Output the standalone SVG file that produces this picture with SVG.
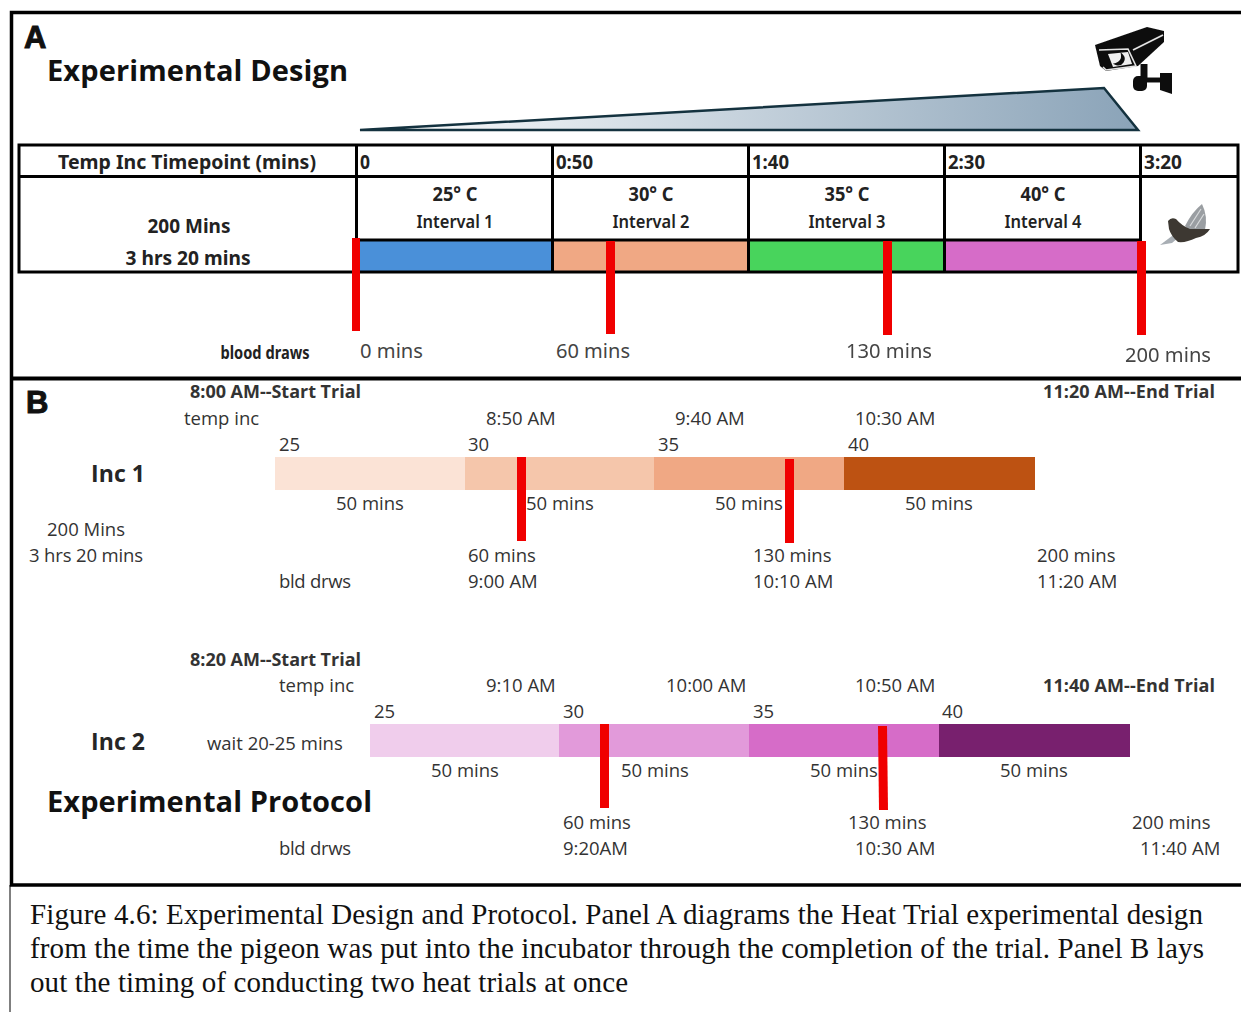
<svg xmlns="http://www.w3.org/2000/svg" width="1241" height="1012" viewBox="0 0 1241 1012">
<defs>
<linearGradient id="wedge" x1="0" x2="1" y1="0" y2="0"><stop offset="0" stop-color="#ffffff"/><stop offset="1" stop-color="#8aa3b8"/></linearGradient>
<filter id="soft" x="-10%" y="-10%" width="120%" height="120%"><feGaussianBlur stdDeviation="0.6"/></filter>
</defs>
<style>
text{font-family:"Open Sans","Noto Sans","Liberation Sans",sans-serif;fill:#262626}
.b{font-weight:700}
.t{font-size:18.5px;fill:#333}
.s{font-size:18px;fill:#333}
.h{font-size:29px;font-weight:700;fill:#111}
.L{font-size:31px;font-weight:700;fill:#111;stroke:#111;stroke-width:1;font-family:"Liberation Sans",sans-serif}
.c{font-family:"Noto Sans","Open Sans",sans-serif;font-weight:700;font-size:20px;fill:#222}
.i{font-size:18px;font-weight:600}
.m{font-family:"Noto Sans","Open Sans",sans-serif;font-size:20px;fill:#444}
.f{filter:url(#soft)}
.cap{font-family:"Liberation Serif",serif;font-size:29px;fill:#111}
.grid{stroke:#000;stroke-width:3;fill:none}
.red{fill:#f00000}
</style>
<rect width="1241" height="1012" fill="#fff"/>
<g id="frame">
<path d="M1241 12.500H11.500V885H1241" fill="none" stroke="#000" stroke-width="3.500"/>
<path d="M11 378.500H1241" stroke="#000" stroke-width="4"/>
<path d="M10 885V1012" stroke="#000" stroke-width="1"/>
</g>
<g id="panel-a">
<text class="L" x="24" y="48" textLength="22">A</text>
<text class="h" x="47" y="81" textLength="301">Experimental Design</text>
<g id="camera" class="f">
<path d="M1095 45L1147 27L1164 31L1164 42L1138 66L1106 71L1100 66Z" fill="#111"/>
<path d="M1099 50L1128 49L1136 66L1106 70L1103 67" fill="none" stroke="#e4e4e4" stroke-width="1.600"/>
<path d="M1108 54L1128 52L1132 64L1113 67Z" fill="#efefef"/>
<path d="M1122 55a5.500 5.500 0 0 1-6 9a8 8 0 0 0 6-9Z" fill="#111" stroke="#111" stroke-width="2"/>
<path d="M1133 50L1163 35" stroke="#e4e4e4" stroke-width="1.600"/>
<path d="M1144 64V79" stroke="#111" stroke-width="7"/>
<path d="M1146 80H1162" stroke="#111" stroke-width="5"/>
<rect x="1133" y="76" width="14" height="15" rx="5" fill="#111"/>
<path d="M1160 73H1172V94L1160 90Z" fill="#111"/>
</g>
<polygon id="wedge-ramp" points="360,130 1104,88 1138,130" fill="url(#wedge)" stroke="#14323f" stroke-width="2.500"/>
<g id="interval-1"><rect x="357" y="241" width="195" height="31" fill="#4a90d9"/></g>
<g id="interval-2"><rect x="552" y="241" width="196" height="31" fill="#f0a884"/></g>
<g id="interval-3"><rect x="748" y="241" width="196" height="31" fill="#48d45c"/></g>
<g id="interval-4"><rect x="944" y="241" width="196" height="31" fill="#d66cc8"/></g>
<g id="table" class="grid">
<rect x="19" y="145" width="1219" height="127"/>
<path d="M19 176.500H1238M356.500 145V272M552.500 145V272M748.500 145V272M944.500 145V272M1140.500 145V272M357 240H1140"/>
</g>
<g id="table-text">
<text class="c" x="187" y="169" text-anchor="middle" textLength="258" lengthAdjust="spacingAndGlyphs">Temp Inc Timepoint (mins)</text>
<text class="c" x="360" y="169" textLength="10" lengthAdjust="spacingAndGlyphs">0</text>
<text class="c" x="556" y="169" textLength="37" lengthAdjust="spacingAndGlyphs">0:50</text>
<text class="c" x="752" y="169" textLength="37" lengthAdjust="spacingAndGlyphs">1:40</text>
<text class="c" x="948" y="169" textLength="37" lengthAdjust="spacingAndGlyphs">2:30</text>
<text class="c" x="1144" y="169" textLength="38" lengthAdjust="spacingAndGlyphs">3:20</text>
<text class="c" x="189" y="233" text-anchor="middle" textLength="83" lengthAdjust="spacingAndGlyphs">200 Mins</text>
<text class="c" x="188" y="265" text-anchor="middle" textLength="125" lengthAdjust="spacingAndGlyphs">3 hrs 20 mins</text>
<text class="c" x="455" y="201" text-anchor="middle" textLength="45" lengthAdjust="spacingAndGlyphs">25° C</text>
<text class="c" x="651" y="201" text-anchor="middle" textLength="45" lengthAdjust="spacingAndGlyphs">30° C</text>
<text class="c" x="847" y="201" text-anchor="middle" textLength="45" lengthAdjust="spacingAndGlyphs">35° C</text>
<text class="c" x="1043" y="201" text-anchor="middle" textLength="45" lengthAdjust="spacingAndGlyphs">40° C</text>
<text class="c i" x="455" y="228" text-anchor="middle" textLength="77" lengthAdjust="spacingAndGlyphs">Interval 1</text>
<text class="c i" x="651" y="228" text-anchor="middle" textLength="77" lengthAdjust="spacingAndGlyphs">Interval 2</text>
<text class="c i" x="847" y="228" text-anchor="middle" textLength="77" lengthAdjust="spacingAndGlyphs">Interval 3</text>
<text class="c i" x="1043" y="228" text-anchor="middle" textLength="77" lengthAdjust="spacingAndGlyphs">Interval 4</text>
</g>
<g id="pigeon" class="f">
<path d="M1160 245L1172 236L1178 238L1172 243Z" fill="#a8aeb4"/>
<path d="M1185 226Q1192 212 1202 204Q1208 216 1205 230L1192 234Z" fill="#9a9ea2"/>
<path d="M1168 221Q1171 217 1176 219Q1182 226 1190 229L1210 229Q1206 236 1196 238Q1186 243 1178 242Q1171 236 1169 229Z" fill="#3d3932"/>
<path d="M1190 226L1201 209M1195 228L1204 214" stroke="#d8dadc" stroke-width="1.200"/>
</g>
<g id="blood-marks-a">
<rect class="red" x="352" y="238" width="8" height="93"/>
<rect class="red" x="606" y="241" width="9" height="93"/>
<rect class="red" x="883" y="241" width="9" height="94"/>
<rect class="red" x="1137" y="241" width="9" height="94"/>
</g>
<text class="c" x="265" y="359" text-anchor="middle" style="font-size:17px" textLength="89" lengthAdjust="spacingAndGlyphs">blood draws</text>
<text class="m" x="360" y="358" textLength="63" lengthAdjust="spacingAndGlyphs">0 mins</text>
<text class="m" x="556" y="358" textLength="74" lengthAdjust="spacingAndGlyphs">60 mins</text>
<text class="m f" x="846" y="358" textLength="86" lengthAdjust="spacingAndGlyphs">130 mins</text>
<text class="m f" x="1125" y="362" textLength="86" lengthAdjust="spacingAndGlyphs">200 mins</text>
</g>
<g id="panel-b">
<text class="L" x="26" y="413" textLength="21">B</text>
<text class="s b" x="190" y="398" textLength="171">8:00 AM--Start Trial</text>
<text class="s b" x="1043" y="398" textLength="172">11:20 AM--End Trial</text>
<text class="t" x="184" y="425">temp inc</text>
<text class="t" x="486" y="425">8:50 AM</text>
<text class="t" x="675" y="425">9:40 AM</text>
<text class="t" x="855" y="425">10:30 AM</text>
<text class="t" x="279" y="451">25</text><text class="t" x="468" y="451">30</text><text class="t" x="658" y="451">35</text><text class="t" x="848" y="451">40</text>
<text x="91" y="482" class="b" style="font-size:23px" textLength="54">Inc 1</text>
<g id="inc1-bar">
<rect x="275" y="457" width="190" height="33" fill="#fbe3d6"/>
<rect x="465" y="457" width="190" height="33" fill="#f5c6ab"/>
<rect x="654" y="457" width="190" height="33" fill="#f0a884"/>
<rect x="844" y="457" width="191" height="33" fill="#bd5212"/>
</g>
<rect class="red" x="517" y="457" width="9" height="84"/>
<rect class="red" x="785" y="459" width="9" height="84"/>
<text class="t" x="336" y="510">50 mins</text><text class="t" x="526" y="510">50 mins</text><text class="t" x="715" y="510">50 mins</text><text class="t" x="905" y="510">50 mins</text>
<text class="t" x="86" y="536" text-anchor="middle">200 Mins</text>
<text class="t" x="86" y="562" text-anchor="middle" textLength="114">3 hrs 20 mins</text>
<text class="t" x="468" y="562">60 mins</text><text class="t" x="753" y="562">130 mins</text><text class="t" x="1037" y="562">200 mins</text>
<text class="t" x="279" y="588" textLength="72">bld drws</text><text class="t" x="468" y="588">9:00 AM</text><text class="t" x="753" y="588">10:10 AM</text><text class="t" x="1037" y="588">11:20 AM</text>

<text class="s b" x="190" y="666" textLength="171">8:20 AM--Start Trial</text>
<text class="s b" x="1043" y="692" textLength="172">11:40 AM--End Trial</text>
<text class="t" x="279" y="692">temp inc</text>
<text class="t" x="486" y="692">9:10 AM</text>
<text class="t" x="666" y="692">10:00 AM</text>
<text class="t" x="855" y="692">10:50 AM</text>
<text class="t" x="374" y="718">25</text><text class="t" x="563" y="718">30</text><text class="t" x="753" y="718">35</text><text class="t" x="942" y="718">40</text>
<text x="91" y="750" class="b" style="font-size:23px" textLength="54">Inc 2</text>
<text class="t" x="207" y="750">wait 20-25 mins</text>
<g id="inc2-bar">
<rect x="370" y="724" width="190" height="33" fill="#f0cdec"/>
<rect x="559" y="724" width="190" height="33" fill="#e29ada"/>
<rect x="749" y="724" width="190" height="33" fill="#d66cc8"/>
<rect x="939" y="724" width="191" height="33" fill="#78206e"/>
</g>
<rect class="red" x="600" y="724" width="9" height="84"/>
<path class="red" d="M878 726h9l1 84h-9z"/>
<text class="t" x="431" y="777">50 mins</text><text class="t" x="621" y="777">50 mins</text><text class="t" x="810" y="777">50 mins</text><text class="t" x="1000" y="777">50 mins</text>
<text class="h" x="47" y="812" textLength="325">Experimental Protocol</text>
<text class="t" x="563" y="829">60 mins</text><text class="t" x="848" y="829">130 mins</text><text class="t" x="1132" y="829">200 mins</text>
<text class="t" x="279" y="855" textLength="72">bld drws</text><text class="t" x="563" y="855">9:20AM</text><text class="t" x="855" y="855">10:30 AM</text><text class="t" x="1140" y="855">11:40 AM</text>
</g>
<g id="caption">
<text class="cap" x="30" y="924" textLength="1173">Figure 4.6: Experimental Design and Protocol. Panel A diagrams the Heat Trial experimental design</text>
<text class="cap" x="30" y="958" textLength="1174">from the time the pigeon was put into the incubator through the completion of the trial. Panel B lays</text>
<text class="cap" x="30" y="992" textLength="598">out the timing of conducting two heat trials at once</text>
</g>
</svg>
